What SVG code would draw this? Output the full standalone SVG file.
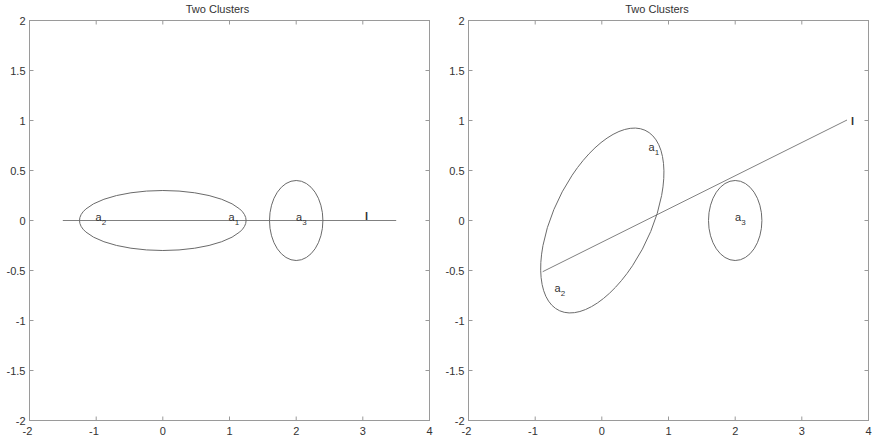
<svg xmlns="http://www.w3.org/2000/svg" width="872" height="441" viewBox="0 0 872 441">
<style>
text{font-family:"Liberation Sans",Arial,sans-serif;font-size:11px;fill:#333}
.frame{fill:none;stroke:#9a9a9a;stroke-width:1}
.tick{stroke:#9a9a9a;stroke-width:1}
.yl{text-anchor:end}
.xl{text-anchor:middle}
.ttl{text-anchor:middle}
.ell{fill:none;stroke:#6a6a6a;stroke-width:1}
.ln{stroke:#808080;stroke-width:1;fill:none}
.sub{font-size:8px}
.lab{font-weight:bold}
</style>
<defs>
<g id="ticks">
<path class="tick" d="M96.2,20.5v4M162.8,20.5v4M229.5,20.5v4M296.2,20.5v4M362.8,20.5v4M96.2,420.5v-4M162.8,420.5v-4M229.5,420.5v-4M296.2,420.5v-4M362.8,420.5v-4M29.5,70.5h4M29.5,120.5h4M29.5,170.5h4M29.5,220.5h4M29.5,270.5h4M29.5,320.5h4M29.5,370.5h4M429.5,70.5h-4M429.5,120.5h-4M429.5,170.5h-4M429.5,220.5h-4M429.5,270.5h-4M429.5,320.5h-4M429.5,370.5h-4"/>
</g>
<g id="labels">
<text class="yl" x="25.5" y="24.5">2</text>
<text class="yl" x="25.5" y="74.5">1.5</text>
<text class="yl" x="25.5" y="124.5">1</text>
<text class="yl" x="25.5" y="174.5">0.5</text>
<text class="yl" x="25.5" y="224.5">0</text>
<text class="yl" x="25.5" y="274.5">-0.5</text>
<text class="yl" x="25.5" y="324.5">-1</text>
<text class="yl" x="25.5" y="374.5">-1.5</text>
<text class="yl" x="25.5" y="424.5">-2</text>
<text class="xl" x="27.5" y="435">-2</text>
<text class="xl" x="94" y="435">-1</text>
<text class="xl" x="162.8" y="435">0</text>
<text class="xl" x="229.5" y="435">1</text>
<text class="xl" x="296.2" y="435">2</text>
<text class="xl" x="362.8" y="435">3</text>
<text class="xl" x="429.5" y="435">4</text>
</g>
</defs>

<g id="left-axes">
<rect class="frame" x="29.5" y="20.5" width="400" height="400"/>
<use href="#ticks"/>
<use href="#labels"/>
<text class="ttl" x="217.5" y="13">Two Clusters</text>
</g>

<g id="right-axes">
<rect class="frame" x="468.5" y="20.5" width="400" height="400"/>
<use href="#ticks" transform="translate(439,0)"/>
<use href="#labels" transform="translate(439,0)"/>
<text class="ttl" x="657" y="13">Two Clusters</text>
</g>

<g id="connectors">
<line class="ln" x1="62.8" y1="220.5" x2="396.2" y2="220.5"/>
<line class="ln" x1="542.7" y1="271.7" x2="847" y2="120"/>
</g>

<g id="left-cluster-1">
<ellipse class="ell" cx="162.8" cy="220.5" rx="83.3" ry="30"/>
</g>
<g id="left-cluster-2">
<ellipse class="ell" cx="296.2" cy="220.5" rx="26.7" ry="40"/>
</g>
<g id="left-a2"><text x="95.5" y="221">a<tspan class="sub" dy="4">2</tspan></text></g>
<g id="left-a1"><text x="228.5" y="221">a<tspan class="sub" dy="4">1</tspan></text></g>
<g id="left-a3"><text x="296" y="221">a<tspan class="sub" dy="4">3</tspan></text></g>
<g id="left-l"><text class="lab" x="365" y="219.5">l</text></g>

<g id="right-cluster-1">
<ellipse class="ell" cx="0" cy="0" rx="1.14" ry="0.64" vector-effect="non-scaling-stroke" transform="translate(602.3,220.5) scale(66.667,-100) rotate(45)"/>
</g>
<g id="right-cluster-2">
<ellipse class="ell" cx="735.2" cy="220.5" rx="26.7" ry="40"/>
</g>
<g id="right-a1"><text x="648.5" y="151">a<tspan class="sub" dy="4">1</tspan></text></g>
<g id="right-a2"><text x="554.5" y="292">a<tspan class="sub" dy="4">2</tspan></text></g>
<g id="right-a3"><text x="735" y="221">a<tspan class="sub" dy="4">3</tspan></text></g>
<g id="right-l"><text class="lab" x="851" y="125">l</text></g>
</svg>
